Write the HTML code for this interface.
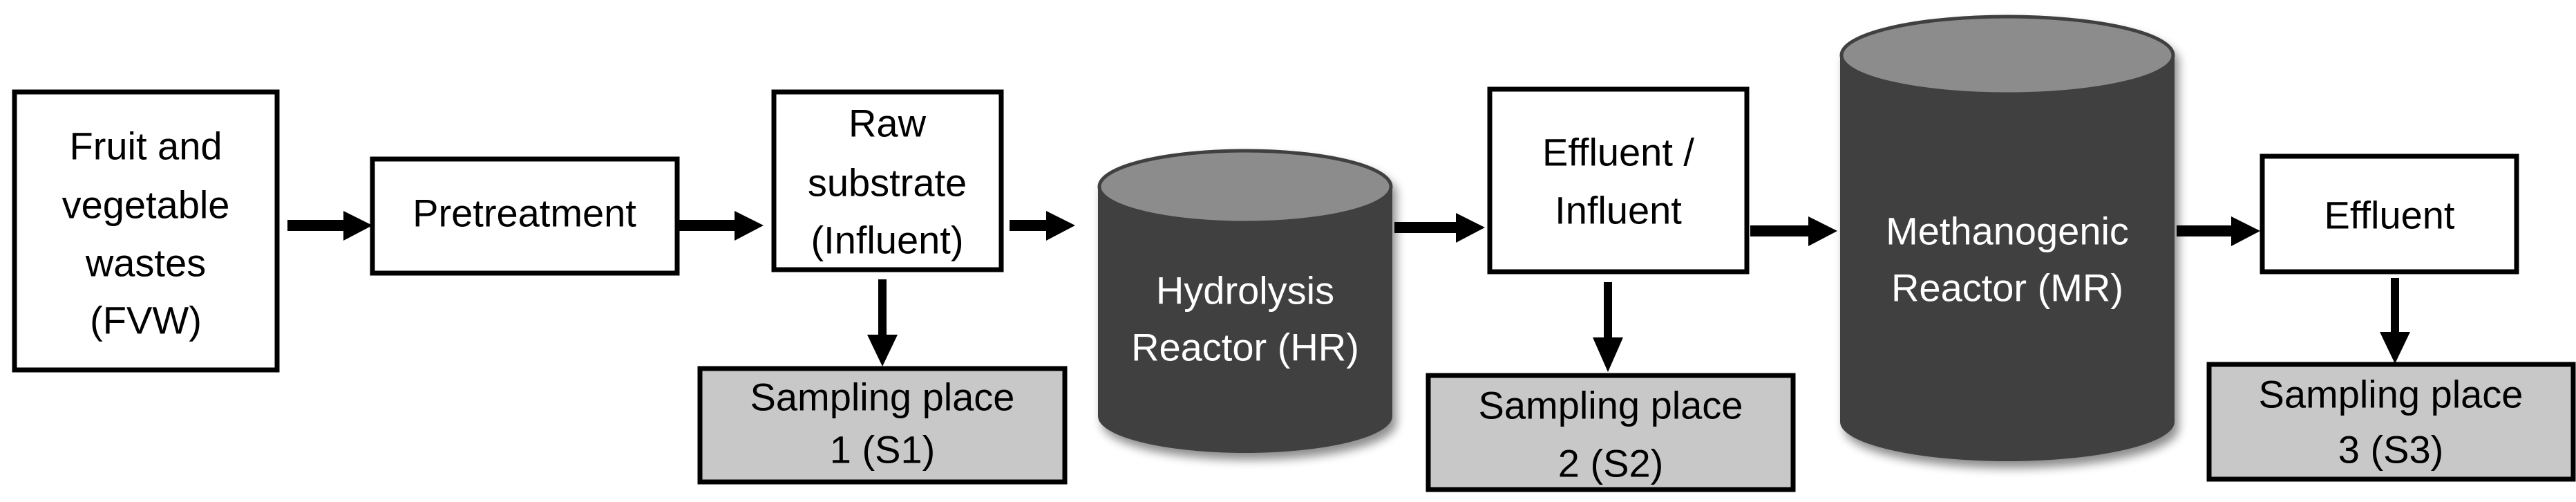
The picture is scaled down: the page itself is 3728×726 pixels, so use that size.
<!DOCTYPE html>
<html><head><meta charset="utf-8"><style>
html,body{margin:0;padding:0;background:#fff;}
svg{display:block;}
text{font-family:"Liberation Sans",sans-serif;font-size:56px;text-anchor:middle;dominant-baseline:central;}
</style></head><body>
<svg width="3728" height="726" viewBox="0 0 3728 726" xmlns="http://www.w3.org/2000/svg">
<defs>
<filter id="sh" x="-20%" y="-20%" width="140%" height="140%"><feGaussianBlur in="SourceAlpha" stdDeviation="7"/><feOffset dx="6" dy="10"/><feComponentTransfer><feFuncA type="linear" slope="0.45"/></feComponentTransfer><feMerge><feMergeNode/><feMergeNode in="SourceGraphic"/></feMerge></filter>
<marker id="ah" markerWidth="10" markerHeight="10" refX="0" refY="0" orient="auto"></marker>
</defs>
<g stroke="#000" stroke-width="7" fill="#fff">
<rect x="21" y="133" width="380" height="402"/>
<rect x="539" y="230" width="441" height="165"/>
<rect x="1120" y="133" width="329" height="257"/>
<rect x="2156" y="129" width="372" height="264"/>
<rect x="3274" y="226" width="368" height="167"/>
<rect x="1013" y="533" width="528" height="164" fill="#c8c8c8"/>
<rect x="2067" y="543" width="528" height="165" fill="#c8c8c8"/>
<rect x="3197" y="527" width="527" height="166" fill="#c8c8c8"/>
</g>
<!-- cylinders -->
<g filter="url(#sh)">
<path d="M1589 270 L1589 602 A213 53 0 0 0 2015 602 L2015 270 Z" fill="#404040"/>
<ellipse cx="1802" cy="270" rx="211" ry="52" fill="#8c8c8c" stroke="#404040" stroke-width="5"/>
</g>
<g filter="url(#sh)">
<path d="M2663 80 L2663 610 A242 57 0 0 0 3147 610 L3147 80 Z" fill="#404040"/>
<ellipse cx="2905" cy="80" rx="240" ry="56" fill="#8c8c8c" stroke="#404040" stroke-width="5"/>
</g>
<!-- horizontal arrows -->
<g fill="#000">
<polygon points="416,318 497,318 497,305 539,326 497,348 497,334 416,334"/>
<polygon points="982,318 1063,318 1063,305 1105,326 1063,348 1063,334 982,334"/>
<polygon points="1461,318 1514,318 1514,305 1556,326 1514,348 1514,334 1461,334"/>
<polygon points="2018,321 2107,321 2107,308 2149,329 2107,351 2107,337 2018,337"/>
<polygon points="2533,326 2617,326 2617,313 2659,334 2617,356 2617,342 2533,342"/>
<polygon points="3150,326 3229,326 3229,313 3271,334 3229,356 3229,342 3150,342"/>
<!-- down arrows -->
<polygon points="1271,404 1283,404 1283,484 1299,484 1277,530 1255,484 1271,484"/>
<polygon points="2321,408 2333,408 2333,488 2349,488 2327,538 2305,488 2321,488"/>
<polygon points="3460,402 3472,402 3472,480 3488,480 3466,526 3444,480 3460,480"/>
</g>
<g fill="#000">
<text x="211" y="211">Fruit and</text>
<text x="211" y="296">vegetable</text>
<text x="211" y="380">wastes</text>
<text x="211" y="463">(FVW)</text>
<text x="759" y="308">Pretreatment</text>
<text x="1284" y="178">Raw</text>
<text x="1284" y="264">substrate</text>
<text x="1284" y="347">(Influent)</text>
<text x="2342" y="220">Effluent /</text>
<text x="2342" y="304">Influent</text>
<text x="3458" y="311">Effluent</text>
<text x="1277" y="574">Sampling place</text>
<text x="1277" y="650">1 (S1)</text>
<text x="2331" y="586">Sampling place</text>
<text x="2331" y="670">2 (S2)</text>
<text x="3460" y="570">Sampling place</text>
<text x="3460" y="650">3 (S3)</text>
</g>
<g fill="#fff">
<text x="1802" y="420">Hydrolysis</text>
<text x="1802" y="502">Reactor (HR)</text>
<text x="2905" y="334">Methanogenic</text>
<text x="2905" y="416">Reactor (MR)</text>
</g>
</svg>
</body></html>
